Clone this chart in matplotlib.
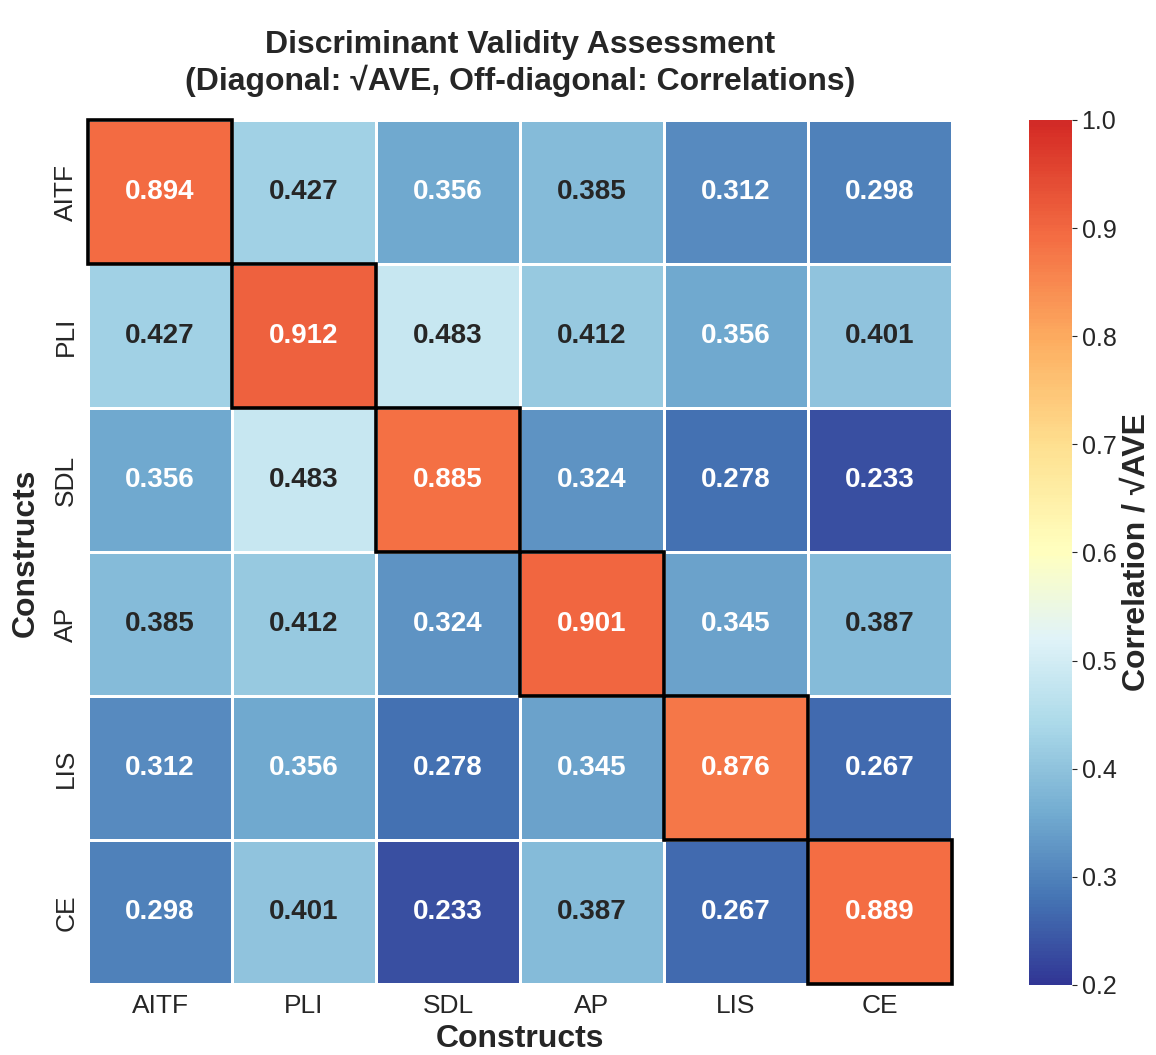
import numpy as np
import matplotlib
matplotlib.use("Agg")
from matplotlib import pyplot as plt
from matplotlib.patches import Rectangle
from matplotlib.colors import ListedColormap
import seaborn as sns

constructs = ["AITF", "PLI", "SDL", "AP", "LIS", "CE"]
sqrt_ave = [0.894, 0.912, 0.885, 0.901, 0.876, 0.889]
# lower triangle correlations, row by row
corr_pairs = {
    ("PLI", "AITF"): 0.427,
    ("SDL", "AITF"): 0.356, ("SDL", "PLI"): 0.483,
    ("AP", "AITF"): 0.385, ("AP", "PLI"): 0.412, ("AP", "SDL"): 0.324,
    ("LIS", "AITF"): 0.312, ("LIS", "PLI"): 0.356, ("LIS", "SDL"): 0.278, ("LIS", "AP"): 0.345,
    ("CE", "AITF"): 0.298, ("CE", "PLI"): 0.401, ("CE", "SDL"): 0.233, ("CE", "AP"): 0.387, ("CE", "LIS"): 0.267,
}

n = len(constructs)
mat = np.zeros((n, n))
for i in range(n):
    mat[i, i] = sqrt_ave[i]
for (a, b), v in corr_pairs.items():
    ia, ib = constructs.index(a), constructs.index(b)
    mat[ia, ib] = v
    mat[ib, ia] = v

sns.set_style("white")
plt.rcParams['font.family'] = ['Liberation Sans', 'DejaVu Sans']

# RdYlBu_r, red half a bit softer (no dark red end)
base = plt.get_cmap("RdYlBu_r")
cmap = ListedColormap(base(np.concatenate([np.linspace(0, 0.5, 128), np.linspace(0.5, 0.91, 128)])))

fig = plt.figure(figsize=(11.56, 10.55), dpi=100)
ax = fig.add_axes([0.0761, 0.0664, 0.7474, 0.8199])
cax = fig.add_axes([0.890, 0.0664, 0.0372, 0.8199])

hm = sns.heatmap(mat, annot=True, fmt=".3f", cmap=cmap, vmin=0.2, vmax=1.0,
                 square=True, linewidths=1, linecolor="white",
                 xticklabels=constructs, yticklabels=constructs,
                 annot_kws={"size": 20, "weight": "bold"},
                 ax=ax, cbar_ax=cax)

for i in range(n):
    ax.add_patch(Rectangle((i, i), 1, 1, fill=False, edgecolor="black", lw=2.6, clip_on=False))

ax.set_title("Discriminant Validity Assessment\n(Diagonal: √AVE, Off-diagonal: Correlations)",
             fontsize=23, fontweight="bold", pad=22)
ax.set_xlabel("Constructs", fontsize=23, fontweight="bold", labelpad=4)
ax.set_ylabel("Constructs", fontsize=23, fontweight="bold", labelpad=10)
ax.tick_params(labelsize=19)

cbar = hm.collections[0].colorbar
cbar.ax.tick_params(labelsize=18)
cbar.set_label("Correlation / √AVE", fontsize=23, fontweight="bold")

plt.savefig("out.png", dpi=100)
